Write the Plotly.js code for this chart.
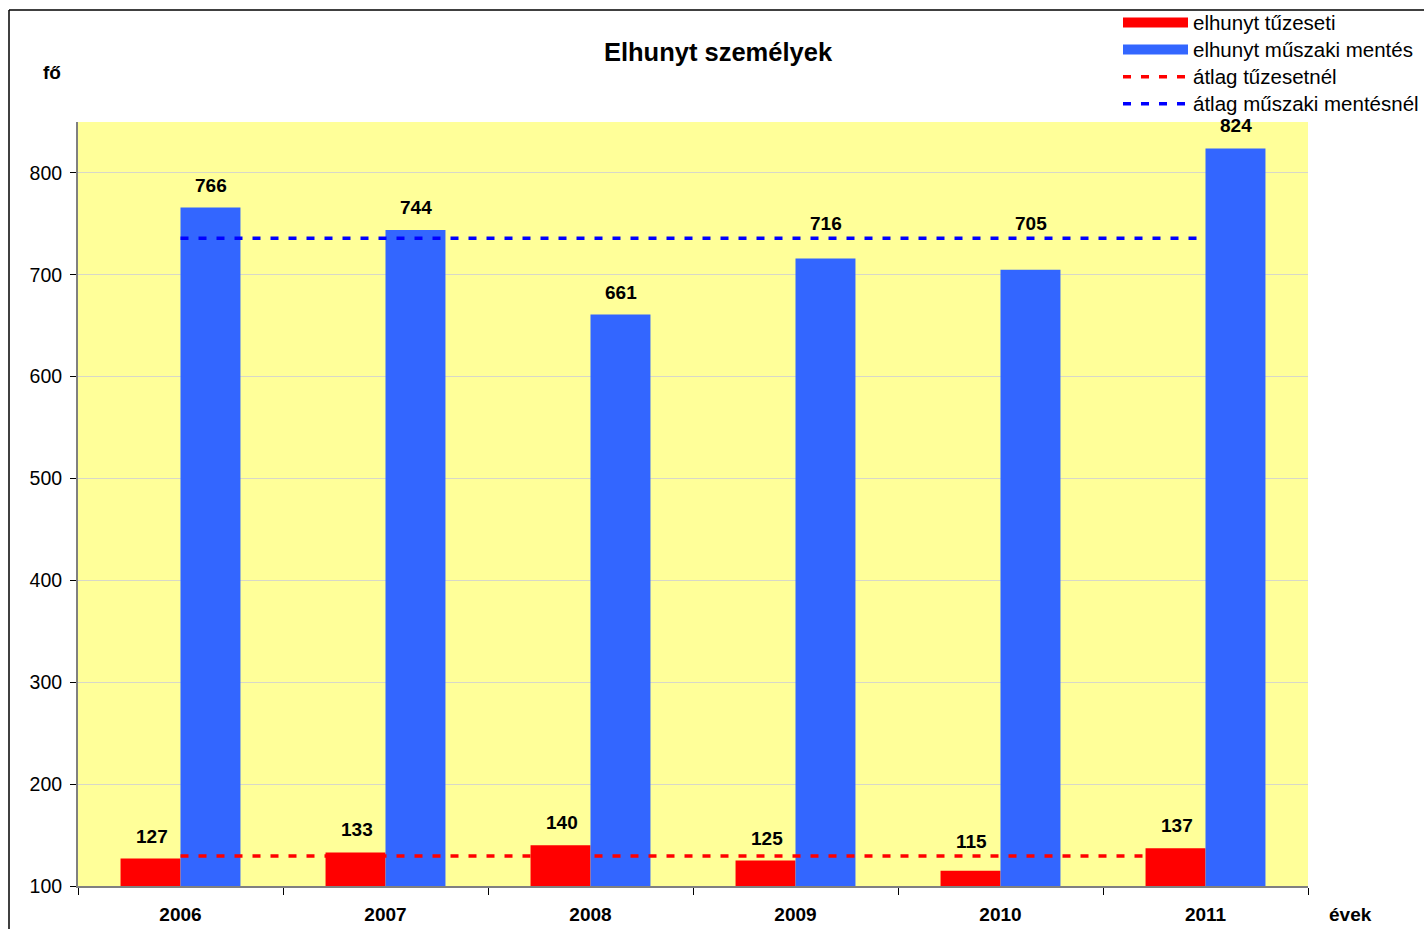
<!DOCTYPE html>
<html>
<head>
<meta charset="utf-8">
<script src="https://cdn.plot.ly/plotly-3.0.1.min.js"></script>
<style>
html,body{margin:0;padding:0;background:#fff;}
#chart{width:1424px;height:929px;}
</style>
</head>
<body>
<div id="chart"></div>
<script>
const years = ['2006','2007','2008','2009','2010','2011'];
const fireDeaths = [127, 133, 140, 125, 115, 137];
const rescueDeaths = [766, 744, 661, 716, 705, 824];
const avgFire = [129.5, 129.5, 129.5, 129.5, 129.5, 129.5];
const avgRescue = [736, 736, 736, 736, 736, 736];
const yTicks = [100, 200, 300, 400, 500, 600, 700, 800];

const names = {
  fire: 'elhunyt tűzeseti',
  rescue: 'elhunyt műszaki mentés',
  avgFire: 'átlag tűzesetnél',
  avgRescue: 'átlag műszaki mentésnél'
};

const RED = '#FF0000', BLUE = '#3366FF', DBLUE = '#0000FF';
const FONT = 'Liberation Sans, Arial, sans-serif';
const DASH = '8px,10px';
const big = s => '<span style="font-size:20.5px">' + s + '</span>';

const traces = [
  {type:'bar', x:years, y:fireDeaths, marker:{color:RED}, showlegend:false, hoverinfo:'x+y'},
  {type:'bar', x:years, y:rescueDeaths, marker:{color:BLUE}, showlegend:false, hoverinfo:'x+y'},
  {type:'scatter', mode:'lines', x:years, y:avgFire, line:{color:RED, width:3.5, dash:DASH}, showlegend:false},
  {type:'scatter', mode:'lines', x:years, y:avgRescue, line:{color:DBLUE, width:3.5, dash:DASH}, showlegend:false},
  // legend entries
  {type:'scatter', mode:'lines', x:[years[0]], y:[null], name:big(names.fire), line:{color:RED, width:12}, hoverinfo:'skip'},
  {type:'scatter', mode:'lines', x:[years[0]], y:[null], name:big(names.rescue), line:{color:BLUE, width:12}, hoverinfo:'skip'},
  {type:'scatter', mode:'lines', x:[years[0]], y:[null], name:big(names.avgFire), line:{color:RED, width:3.5, dash:DASH}, hoverinfo:'skip'},
  {type:'scatter', mode:'lines', x:[years[0]], y:[null], name:big(names.avgRescue), line:{color:DBLUE, width:3.5, dash:DASH}, hoverinfo:'skip'}
];

// data labels: above the bar, lifted above the average line when they would collide with it
function labelPos(v, avg) {
  if (v < avg - 5 && v > avg - 40) return {y: avg, yshift: 2};
  return {y: v, yshift: 10};
}
const annotations = [];
years.forEach((yr, i) => {
  const pf = labelPos(fireDeaths[i], avgFire[i]);
  const pr = labelPos(rescueDeaths[i], avgRescue[i]);
  annotations.push({x:i, y:pf.y, xref:'x', yref:'y', text:'<b>'+fireDeaths[i]+'</b>', showarrow:false,
    xshift:-29, yshift:pf.yshift, yanchor:'bottom', font:{family:FONT, size:19, color:'#000'}});
  annotations.push({x:i, y:pr.y, xref:'x', yref:'y', text:'<b>'+rescueDeaths[i]+'</b>', showarrow:false,
    xshift:30, yshift:pr.yshift, yanchor:'bottom', font:{family:FONT, size:19, color:'#000'}});
});
annotations.push({xref:'paper', yref:'paper', x:(52-78)/1230, y:(886-72)/764, text:'<b>fő</b>', showarrow:false,
  xanchor:'center', yanchor:'middle', font:{family:FONT, size:19, color:'#000'}});
annotations.push({xref:'paper', yref:'paper', x:(1350-78)/1230, y:(886-914)/764, text:'<b>évek</b>', showarrow:false,
  xanchor:'center', yanchor:'middle', font:{family:FONT, size:19, color:'#000'}});

const layout = {
  width:1424, height:929,
  margin:{l:78, r:116, t:122, b:43, autoexpand:false},
  paper_bgcolor:'#FFFFFF',
  plot_bgcolor:'#FFFF99',
  font:{family:FONT, size:19, color:'#000'},
  title:{text:'<b>Elhunyt személyek</b>', xref:'container', yref:'container', x:718/1424, y:1-52/929,
    xanchor:'center', yanchor:'middle', font:{family:FONT, size:25.5, color:'#000'}},
  barmode:'group', bargap:0.415, bargroupgap:0,
  xaxis:{type:'category', range:[-0.5, years.length-0.5], tickson:'boundaries', ticks:'outside', ticklen:7, tickcolor:'#000', tickwidth:1,
    showline:true, linecolor:'#808080', linewidth:2, showgrid:false, zeroline:false, automargin:false,
    ticklabelstandoff:10,
    tickfont:{family:FONT, size:19, color:'#000', weight:'bold'}, fixedrange:true},
  yaxis:{range:[100, 850], tickvals:yTicks, ticktext:yTicks.map(String), ticks:'outside', ticklen:6, tickcolor:'#000',
    showline:true, linecolor:'#808080', linewidth:2, showgrid:true, gridcolor:'#D8D8C8', gridwidth:1, zeroline:false,
    ticklabelstandoff:4,
    automargin:false, tickfont:{family:FONT, size:19.5, color:'#000'}, fixedrange:true},
  legend:{xref:'container', yref:'container', x:1118/1424, y:1-4/929, xanchor:'left', yanchor:'top',
    bgcolor:'rgba(255,255,255,0)', itemwidth:65, font:{family:FONT, size:18.5, color:'#000'}, tracegroupgap:0},
  showlegend:true,
  annotations:annotations,
  shapes:[
    {type:'line', xref:'paper', yref:'paper', x0:(9-78)/1230, x1:(1430-78)/1230, y0:(886-10)/764, y1:(886-10)/764, line:{color:'#000', width:1.5}},
    {type:'line', xref:'paper', yref:'paper', x0:(9-78)/1230, x1:(9-78)/1230, y0:(886-10)/764, y1:(886-940)/764, line:{color:'#000', width:1.5}}
  ]
};

Plotly.newPlot('chart', traces, layout, {displayModeBar:false});
</script>
</body>
</html>
